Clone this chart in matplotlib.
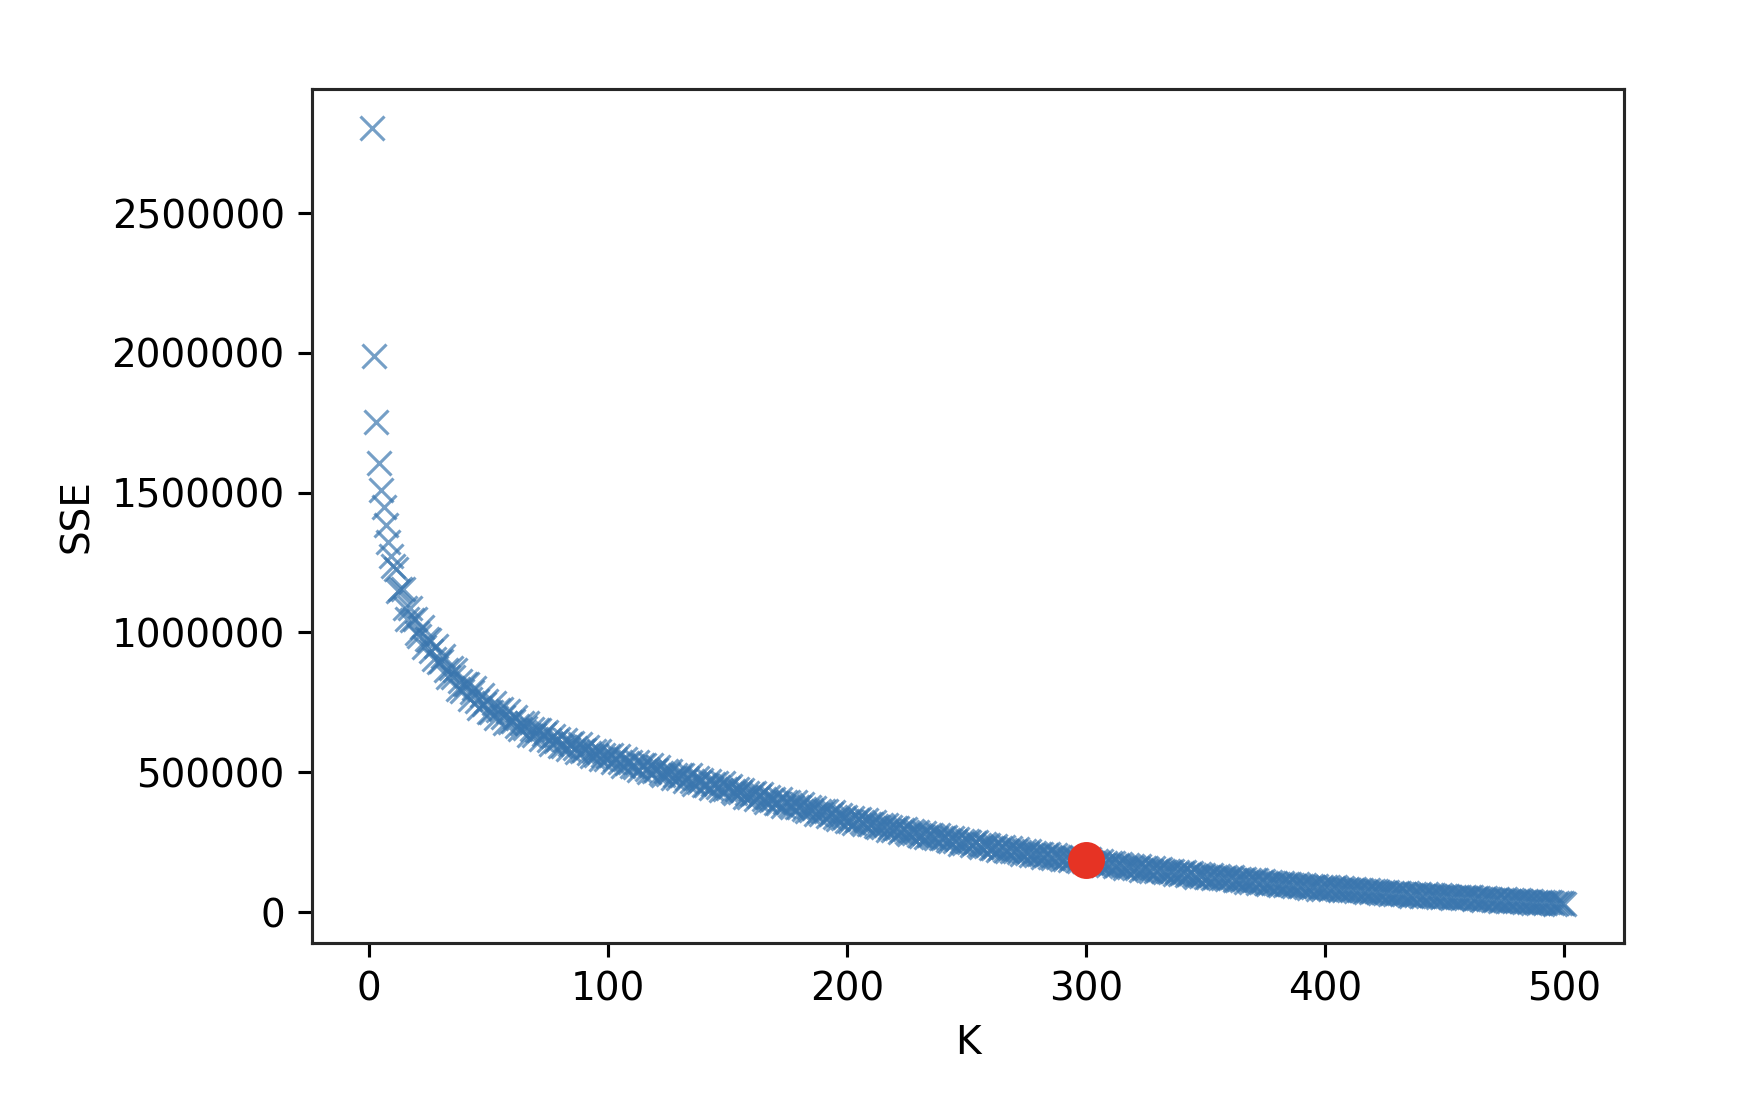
import numpy as np
import matplotlib
matplotlib.use("Agg")
import matplotlib.pyplot as plt

# K values (number of clusters) and SSE (in thousands)
k_values = np.arange(1, 501)
sse_thousands = [
    2805, 1990, 1754, 1605, 1510, 1448, 1386, 1322, 1272, 1236,
    1226, 1148, 1157, 1157, 1088, 1047, 1089, 1044, 1047, 999,
    988, 1020, 947, 977, 974, 934, 904, 952, 895, 899,
    917, 864, 840, 873, 842, 865, 796, 826, 792, 816,
    814, 762, 787, 803, 754, 728, 776, 745, 754, 716,
    715, 746, 693, 721, 725, 696, 677, 720, 678, 684,
    697, 666, 654, 676, 659, 675, 633, 653, 634, 650,
    650, 618, 635, 645, 616, 601, 631, 612, 618, 595,
    595, 615, 582, 600, 603, 585, 573, 601, 575, 579,
    589, 567, 559, 575, 563, 575, 546, 561, 547, 559,
    560, 536, 549, 558, 536, 524, 548, 533, 538, 521,
    520, 537, 509, 525, 527, 513, 502, 526, 503, 508,
    517, 498, 489, 504, 494, 504, 478, 491, 479, 490,
    490, 469, 481, 489, 467, 457, 479, 466, 471, 455,
    454, 470, 444, 459, 460, 447, 438, 460, 440, 443,
    452, 433, 426, 439, 429, 438, 413, 426, 413, 423,
    424, 404, 415, 422, 403, 392, 412, 400, 404, 389,
    389, 403, 380, 393, 394, 382, 374, 392, 374, 377,
    385, 368, 362, 374, 365, 373, 350, 361, 351, 360,
    360, 342, 351, 357, 341, 331, 348, 337, 340, 327,
    327, 338, 319, 329, 331, 321, 314, 329, 314, 316,
    322, 308, 303, 313, 305, 312, 293, 303, 294, 301,
    300, 287, 294, 298, 285, 278, 291, 282, 286, 275,
    273, 284, 267, 277, 277, 268, 263, 276, 263, 265,
    270, 258, 253, 263, 255, 262, 245, 254, 246, 253,
    252, 240, 246, 250, 238, 232, 244, 236, 238, 229,
    228, 237, 222, 230, 231, 223, 217, 230, 218, 220,
    225, 214, 209, 218, 211, 217, 203, 211, 203, 209,
    209, 198, 203, 208, 197, 192, 203, 195, 198, 190,
    189, 198, 185, 192, 192, 186, 181, 192, 182, 184,
    188, 179, 174, 182, 176, 182, 169, 174, 168, 174,
    174, 164, 169, 173, 164, 158, 167, 161, 163, 156,
    156, 163, 152, 158, 159, 152, 148, 157, 148, 150,
    153, 145, 142, 148, 143, 148, 137, 142, 137, 141,
    142, 132, 137, 141, 132, 127, 136, 130, 132, 125,
    125, 131, 122, 127, 128, 123, 120, 127, 119, 121,
    124, 116, 113, 119, 115, 119, 109, 114, 109, 113,
    113, 105, 109, 112, 105, 101, 109, 103, 105, 99,
    98, 104, 95, 100, 101, 96, 93, 100, 92, 94,
    96, 89, 87, 93, 88, 93, 84, 88, 84, 88,
    88, 81, 85, 89, 81, 77, 86, 80, 83, 77,
    77, 82, 74, 78, 80, 75, 72, 79, 73, 74,
    76, 71, 68, 73, 69, 72, 65, 69, 66, 69,
    68, 63, 66, 69, 62, 59, 66, 61, 64, 58,
    58, 63, 56, 60, 61, 56, 54, 60, 55, 56,
    58, 53, 51, 55, 52, 55, 49, 52, 49, 52,
    52, 47, 50, 51, 47, 44, 49, 46, 47, 43,
    43, 46, 41, 44, 45, 41, 40, 44, 40, 41,
    43, 38, 37, 40, 37, 39, 34, 37, 34, 36,
    37, 32, 35, 36, 32, 29, 34, 31, 32, 28,
]
sse = np.array(sse_thousands) * 1000

# highlighted point
best_k = [300]
best_sse = [185000]

DPI = 280
fig = plt.figure(figsize=(1740 / DPI, 1112 / DPI), dpi=DPI)
ax = fig.add_axes([312 / 1740, 1 - 943 / 1112, (1624 - 312) / 1740, (943 - 89) / 1112])

ax.plot(k_values, sse, 'x', color='#3a76ae', alpha=0.7, markersize=6,
        markeredgewidth=0.8)
ax.plot(best_k, best_sse, 'o', color='#e63324', markersize=8.5, zorder=5)

ax.ticklabel_format(style='plain', axis='y', useOffset=False)
ax.set_xticks([0, 100, 200, 300, 400, 500])
ax.set_yticks([0, 500000, 1000000, 1500000, 2000000, 2500000])
ax.set_xlabel('K')
ax.set_ylabel('SSE')

for s in ax.spines.values():
    s.set_color('#262626')

fig.savefig('out.png', dpi=DPI)
